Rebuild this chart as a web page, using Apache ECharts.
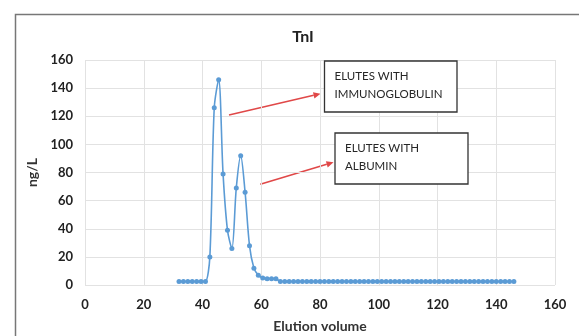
<!DOCTYPE html>
<html>
<head>
<meta charset="utf-8">
<script src="https://cdn.jsdelivr.net/npm/echarts@6/dist/echarts.min.js"></script>
<style>
  html, body { margin: 0; padding: 0; background: #fff; }
  #chart { width: 579px; height: 336px; }
</style>
</head>
<body>
<div id="chart"></div>
<script>
const elutionVolume = [
  32, 33.5, 35, 36.5, 38, 39.5, 41, 42.5, 44, 45.5, 47, 48.5, 50, 51.5, 53, 54.5,
  56, 57.5, 59, 60.5, 62, 63.5, 65, 66.5, 68, 69.5, 71, 72.5, 74, 75.5, 77, 78.5,
  80, 81.5, 83, 84.5, 86, 87.5, 89, 90.5, 92, 93.5, 95, 96.5, 98, 99.5, 101, 102.5,
  104, 105.5, 107, 108.5, 110, 111.5, 113, 114.5, 116, 117.5, 119, 120.5, 122, 123.5,
  125, 126.5, 128, 129.5, 131, 132.5, 134, 135.5, 137, 138.5, 140, 141.5, 143, 144.5, 146
];
const tniValues = [
  2.5, 2.5, 2.5, 2.5, 2.5, 2.5, 2.5, 20, 126, 146, 79, 39, 26, 69, 92, 66,
  28, 12, 7, 5, 4.5, 4.5, 4.5, 2.5, 2.5, 2.5, 2.5, 2.5, 2.5, 2.5, 2.5, 2.5,
  2.5, 2.5, 2.5, 2.5, 2.5, 2.5, 2.5, 2.5, 2.5, 2.5, 2.5, 2.5, 2.5, 2.5, 2.5, 2.5,
  2.5, 2.5, 2.5, 2.5, 2.5, 2.5, 2.5, 2.5, 2.5, 2.5, 2.5, 2.5, 2.5, 2.5,
  2.5, 2.5, 2.5, 2.5, 2.5, 2.5, 2.5, 2.5, 2.5, 2.5, 2.5, 2.5, 2.5, 2.5, 2.5
];
const xTicks = [0, 20, 40, 60, 80, 100, 120, 140, 160];
const yTicks = [0, 20, 40, 60, 80, 100, 120, 140, 160];
const calloutTexts = [["ELUTES WITH", "IMMUNOGLOBULIN"], ["ELUTES WITH", "ALBUMIN"]];

const font = "Lato, 'Open Sans', sans-serif";
const red = "#e04848";

function arrow(x1, y1, x2, y2) {
  const len = Math.hypot(x2 - x1, y2 - y1);
  const ux = (x2 - x1) / len, uy = (y2 - y1) / len;
  const bx = x2 - ux * 7, by = y2 - uy * 7;
  return [
    { type: "line", shape: { x1, y1, x2: bx, y2: by }, style: { stroke: red, lineWidth: 1.6 } },
    {
      type: "polygon",
      shape: { points: [[x2, y2], [bx - uy * 3.2, by + ux * 3.2], [bx + uy * 3.2, by - ux * 3.2]] },
      style: { fill: red }
    }
  ];
}

// box with two lines of text, positioned in page pixels
function callout(x, y, w, h, lines) {
  const els = [
    { type: "rect", z: 10, shape: { x, y, width: w, height: h }, style: { fill: "#fff", stroke: "#333", lineWidth: 1.3 } }
  ];
  lines.forEach((line, i) => {
    els.push({
      type: "text", z: 11, x: x + 10, y: y + 15 + i * 18.5,
      style: { text: line, font: "11.5px " + font, fill: "#262626", verticalAlign: "middle" }
    });
  });
  return els;
}

const chart = echarts.init(document.getElementById("chart"), null, { renderer: "canvas" });
chart.setOption({
  animation: false,
  backgroundColor: "#fff",
  title: {
    text: "TnI",
    left: 298, top: 24,
    textAlign: "center",
    textStyle: { fontFamily: font, fontWeight: "bold", fontSize: 16, color: "#222" }
  },
  grid: { left: 85, right: 24, top: 60, bottom: 51, containLabel: false, outerBoundsMode: "none" },
  xAxis: {
    type: "value",
    min: xTicks[0], max: xTicks[xTicks.length - 1], interval: 20,
    name: "Elution volume", nameLocation: "middle", nameGap: 34,
    nameTextStyle: { fontFamily: font, fontWeight: "bold", fontSize: 14, color: "#333" },
    axisLine: { show: false },
    axisTick: { show: false },
    axisLabel: { margin: 13, fontFamily: font, fontWeight: "bold", fontSize: 13, color: "#222" },
    splitLine: { show: true, lineStyle: { color: "#e2e2e2", width: 1 } }
  },
  yAxis: {
    type: "value",
    min: yTicks[0], max: yTicks[yTicks.length - 1], interval: 20,
    name: "ng/L", nameLocation: "middle", nameGap: 42,
    nameTextStyle: { fontFamily: font, fontWeight: "bold", fontSize: 14, color: "#333" },
    axisLine: { show: false },
    axisTick: { show: false },
    axisLabel: { margin: 12, fontFamily: font, fontWeight: "bold", fontSize: 13, color: "#222" },
    splitLine: { show: true, lineStyle: { color: "#e2e2e2", width: 1 } }
  },
  series: [{
    type: "line",
    data: elutionVolume.map((v, i) => [v, tniValues[i]]),
    smooth: 0.3,
    symbol: "circle",
    symbolSize: 5,
    lineStyle: { color: "#5b9bd5", width: 1.6 },
    itemStyle: { color: "#5b9bd5" }
  }],
  graphic: [
    { type: "rect", shape: { x: 15.5, y: 14.5, width: 600, height: 400 }, style: { fill: null, stroke: "#777", lineWidth: 1.5 }, z: 100 },
    ...arrow(229, 115, 320.5, 93.7),
    ...arrow(260.3, 184.3, 333.5, 162.3),
    ...callout(324.5, 61, 132.5, 51, calloutTexts[0]),
    ...callout(335, 133, 133, 51, calloutTexts[1])
  ]
});
</script>
</body>
</html>
